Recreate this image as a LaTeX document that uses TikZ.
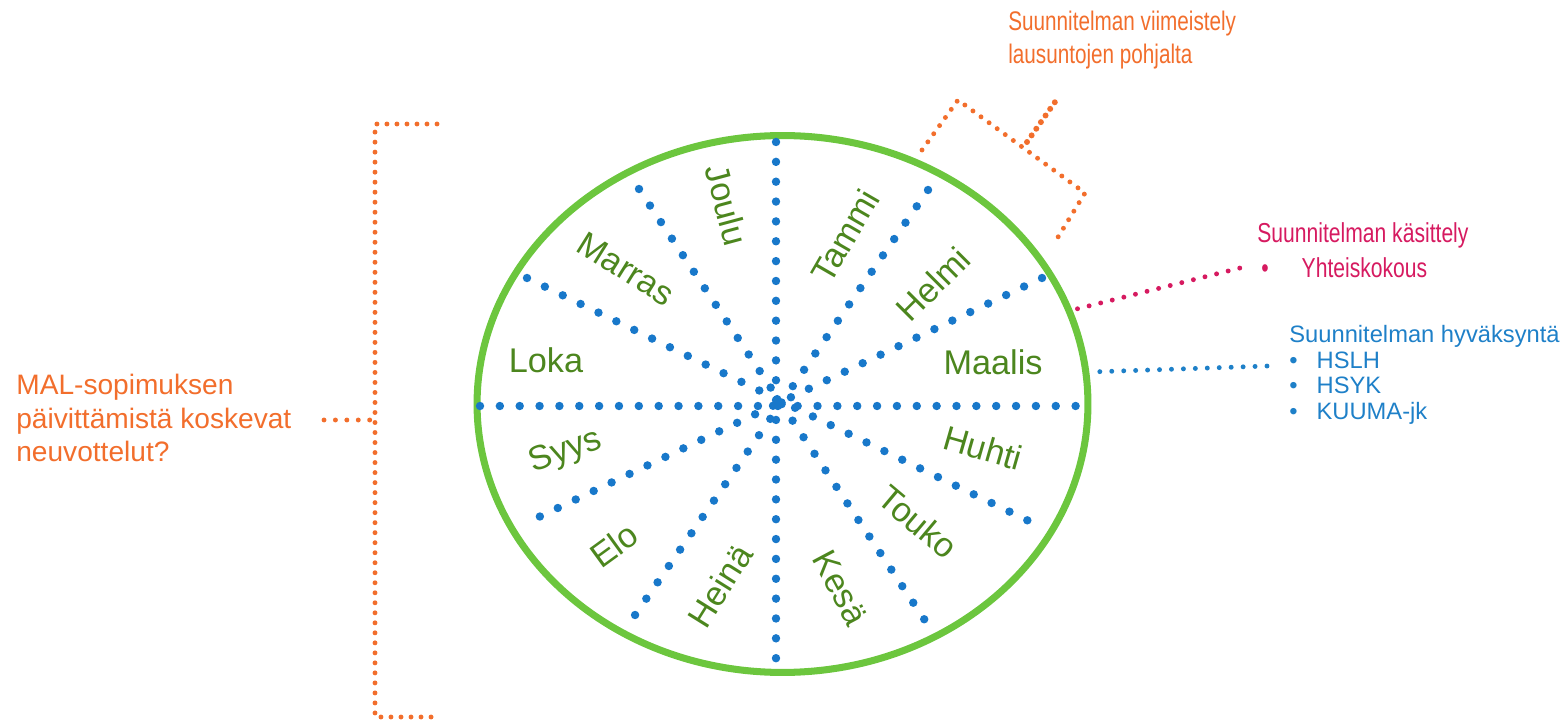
\documentclass[tikz,border=0pt]{standalone}
\usepackage{fontspec}
\setmainfont{Liberation Sans}
\newfontfamily\narrowfont{Liberation Sans}[FakeStretch=0.77]
\usetikzlibrary{shapes.geometric}

\definecolor{wheelgreen}{RGB}{108,198,62}
\definecolor{monthgreen}{RGB}{76,134,30}
\definecolor{spokeblue}{RGB}{24,120,202}
\definecolor{noteorange}{RGB}{242,110,44}
\definecolor{notepink}{RGB}{214,26,96}
\definecolor{noteblue}{RGB}{30,128,200}

\tikzset{
  month/.style={text=monthgreen, font=\fontsize{19.5}{22}\selectfont, inner sep=0pt},
  spoke/.style={spokeblue, line width=4.8pt, line cap=round, dash pattern=on 0pt off 11.3pt},
  bracketdots/.style={noteorange, line width=2.8pt, line cap=round, dash pattern=on 0pt off 5.7pt},
  linkdots/.style={line width=2.8pt, line cap=round, dash pattern=on 0pt off 6.8pt},
}

\begin{document}
\begin{tikzpicture}[x=0.02cm, y=-0.02cm]
  \useasboundingbox (0,0) rectangle (1568,722);

  % vuosikello
  \node[ellipse, draw=wheelgreen, line width=4pt, minimum width=12.22cm,
        minimum height=10.74cm, inner sep=0pt, outer sep=0pt] (wheel) at (782.5,404) {};
  \foreach \xa/\ya/\xb/\yb in {480/406/1088/406, 776/142/776/665, 639/189/930/628,
                               527/278/1037/525, 1042/278/522/525, 928/190/633/618}
    \draw[spoke] (\xa,\ya) -- (\xb,\yb);

  % kuukaudet
  \node[month, rotate=-75] (joulu)  at (727,205) {Joulu};
  \node[month, rotate=60]  (tammi)  at (845,236) {Tammi};
  \node[month, rotate=45]  (helmi)  at (933,284) {Helmi};
  \node[month]             (maalis) at (993,362) {Maalis};
  \node[month, rotate=-16] (huhti)  at (983,448) {Huhti};
  \node[month, rotate=-40] (touko)  at (918,522) {Touko};
  \node[month, rotate=-62] (kesa)   at (840,588) {Kesä};
  \node[month, rotate=58]  (heina)  at (720,586) {Heinä};
  \node[month, rotate=36]  (elo)    at (614,545) {Elo};
  \node[month, rotate=20]  (syys)   at (566,452) {Syys};
  \node[month]             (loka)   at (546,360) {Loka};
  \node[month, rotate=-32] (marras) at (626,269) {Marras};

  % neuvottelut
  \node[anchor=west, align=left, text=noteorange, inner sep=0pt,
        font=\fontsize{16}{19.3}\selectfont] (mal) at (16,418)
        {MAL-sopimuksen\\päivittämistä koskevat\\neuvottelut?};
  \coordinate (malend) at (324,420);
  \coordinate (malstub) at (373,420);
  \draw[bracketdots] (437,124) -- (375,124) -- (375,717) -- (437,717);
  \draw[bracketdots, dash pattern=on 0pt off 6.5pt] (malend) -- (malstub);

  % viimeistely
  \node[anchor=west, align=left, text=noteorange, inner sep=0pt,
        font=\narrowfont\fontsize{15.3}{18.7}\selectfont] (viimeistely) at (1008,40)
        {Suunnitelman viimeistely\\lausuntojen pohjalta};
  \coordinate (v1) at (922,150);
  \coordinate (v2) at (958,100);
  \coordinate (v3) at (1085,193);
  \coordinate (v4) at (1055,242);
  \coordinate (vj) at (1027,142);
  \coordinate (vs) at (1055,102);
  \draw[bracketdots] (v1) -- (v2) -- (v3) -- (v4);
  \draw[bracketdots, line width=3.4pt, dash pattern=on 0pt off 4.6pt] (vj) -- (vs);

  % kasittely
  \node[anchor=west, align=left, text=notepink, inner sep=0pt,
        font=\narrowfont\fontsize{15.6}{19.8}\selectfont] (kasittely) at (1257,250)
        {Suunnitelman käsittely\\\hspace*{0.15em}\textbullet\hspace{1.2em}Yhteiskokous};
  \coordinate (pinkend) at (1240,268);
  \draw[linkdots, notepink, shorten <=5pt] (wheel.18) -- (pinkend);

  % hyvaksynta
  \node[anchor=west, align=left, text=noteblue, inner sep=0pt,
        font=\fontsize{13.5}{14.5}\selectfont] (hyvaksynta) at (1289,375)
        {Suunnitelman hyväksyntä\\\textbullet\hspace{0.8em}HSLH\\
         \textbullet\hspace{0.8em}HSYK\\\textbullet\hspace{0.8em}KUUMA-jk};
  \coordinate (blueend) at (1268,366);
  \draw[linkdots, noteblue, shorten <=8pt] (wheel.6.5) -- (blueend);
\end{tikzpicture}
\end{document}
